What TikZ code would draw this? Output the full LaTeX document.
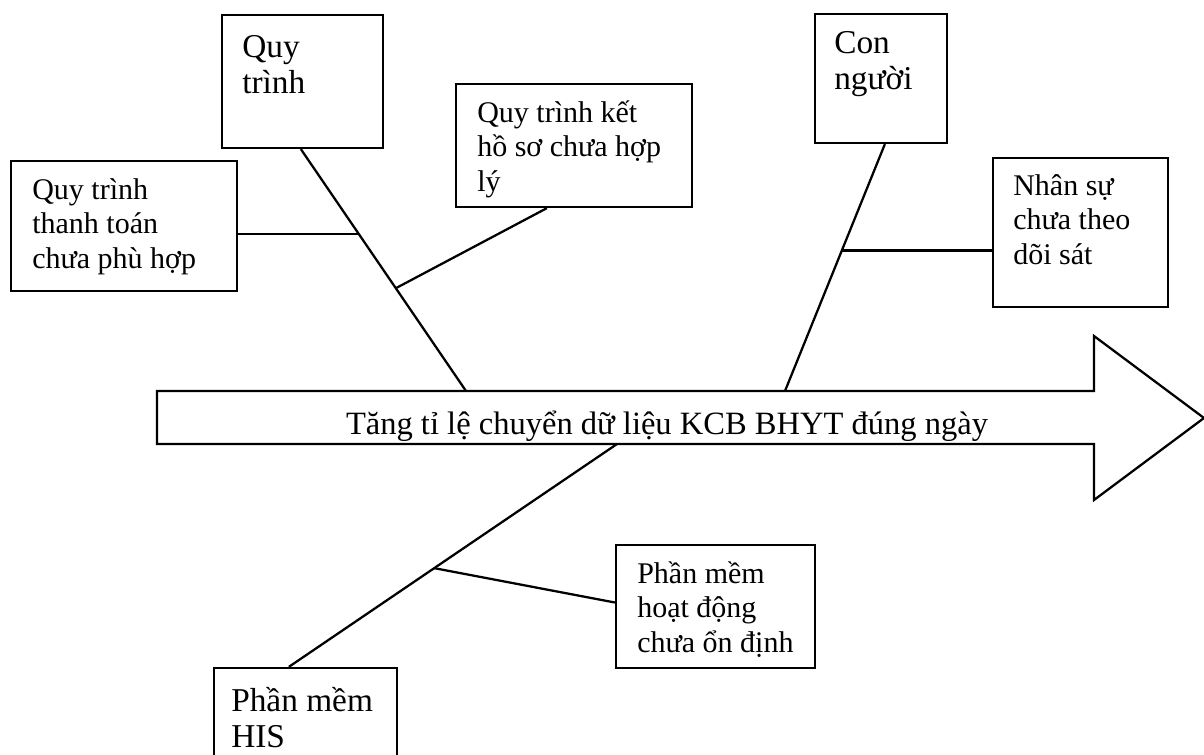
\documentclass[tikz,border=0pt]{standalone}
\usepackage{fontspec}
\setmainfont{Liberation Serif}
\usetikzlibrary{fit,calc}
\begin{document}
\begin{tikzpicture}[x=0.75pt,y=-0.75pt,
  ln/.style={line width=1.7pt,line join=miter},
  boxnode/.style={draw,line width=1.7pt,inner sep=0pt},
  causetext/.style={inner sep=0pt,anchor=base west,font=\fontsize{22.5}{25.9}\selectfont},
  cattext/.style={inner sep=0pt,anchor=base west,font=\fontsize{25}{27}\selectfont},
  goaltext/.style={inner sep=0pt,anchor=base,font=\fontsize{24.4}{27}\selectfont}]
\useasboundingbox (0,0) rectangle (1204,754);
\fill[white] (0,0) rectangle (1204,754);

% main arrow
\coordinate (atl) at (157,391);
\coordinate (atr) at (1094,391);
\coordinate (aht) at (1094,336);
\coordinate (tip) at (1204,418);
\coordinate (ahb) at (1094,500);
\coordinate (abr) at (1094,444);
\coordinate (abl) at (157,444);
\draw[ln] (atl) -- (atr) -- (aht) -- (tip) -- (ahb) -- (abr) -- (abl) -- cycle;
\node[goaltext] (goal) at (667,434) {Tăng tỉ lệ chuyển dữ liệu KCB BHYT đúng ngày};

% category boxes
\node[boxnode,fit={(222,15)(383,148)}] (c1) {};
\node[cattext] (c1t) at (242,57) {\vtop{\hbox{Quy}\hbox{trình}}};
\node[boxnode,fit={(815,14)(947,143)}] (c2) {};
\node[cattext] (c2t) at (834,53) {\vtop{\hbox{Con}\hbox{người}}};
\node[boxnode,fit={(214,668)(397,775)}] (c3) {};
\node[cattext] (c3t) at (231,711) {\vtop{\hbox{Phần mềm}\hbox{HIS}}};

% cause boxes
\node[boxnode,fit={(11,161)(237,291)}] (d1) {};
\node[causetext] (d1t) at (32,199) {\vtop{\hbox{Quy trình}\hbox{thanh toán}\hbox{chưa phù hợp}}};
\node[boxnode,fit={(456,84)(692,207)}] (d2) {};
\node[causetext] (d2t) at (477,122) {\vtop{\hbox{Quy trình kết}\hbox{hồ sơ chưa hợp}\hbox{lý}}};
\node[boxnode,fit={(993,158)(1168,307)}] (d3) {};
\node[causetext] (d3t) at (1013,195) {\vtop{\hbox{Nhân sự}\hbox{chưa theo}\hbox{dõi sát}}};
\node[boxnode,fit={(616,545)(815,668)}] (d4) {};
\node[causetext] (d4t) at (637,583) {\vtop{\hbox{Phần mềm}\hbox{hoạt động}\hbox{chưa ổn định}}};

% spines
\coordinate (s1a) at ($(c1.south west)+(80,0)$);
\coordinate (s1b) at (466,391);
\coordinate (s2a) at ($(c2.south west)+(71,0)$);
\coordinate (s2b) at (785,391);
\coordinate (s3a) at (617,444);
\coordinate (s3b) at ($(c3.north west)+(76,0)$);
\draw[ln] (s1a) -- (s1b);
\draw[ln] (s2a) -- (s2b);
\draw[ln] (s3a) -- (s3b);

% joints
\coordinate (j1) at ($(s1a)!0.35!(s1b)$);
\coordinate (j2) at ($(s1a)!0.575!(s1b)$);
\coordinate (j3) at ($(s2a)!0.431!(s2b)$);
\coordinate (j4) at ($(s3a)!0.557!(s3b)$);

% branches
\draw[ln] (j1 -| d1.east) -- (j1);
\draw[ln] ($(d2.south west)+(92,0)$) -- (j2);
\draw[ln] (j3 -| d3.west) -- (j3);
\draw[ln] ($(d4.west)+(0,-4)$) -- (j4);
\end{tikzpicture}
\end{document}
